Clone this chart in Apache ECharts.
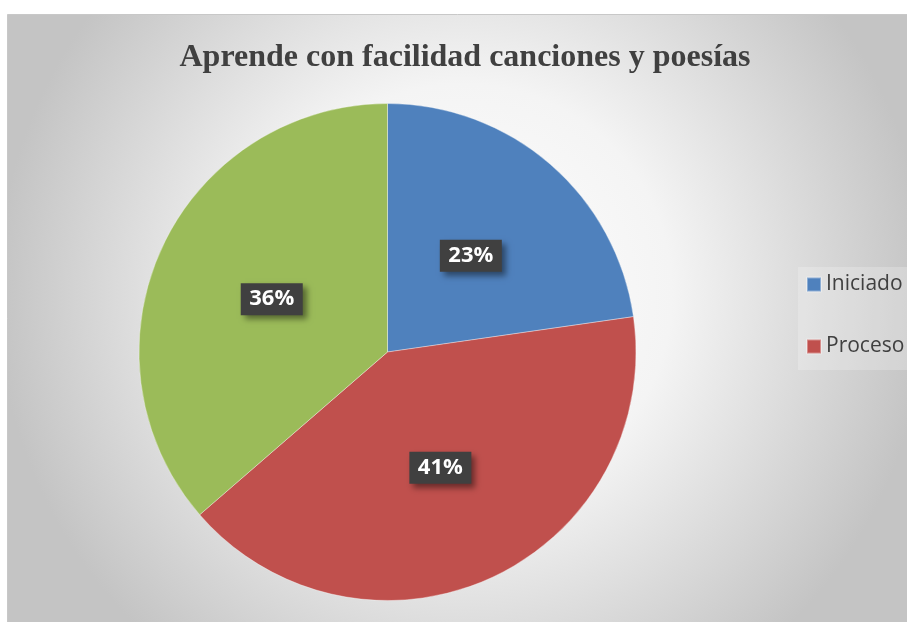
<!DOCTYPE html>
<html>
<head>
<meta charset="utf-8">
<script src="https://cdn.jsdelivr.net/npm/echarts@6/dist/echarts.min.js"></script>
<style>
html,body{margin:0;padding:0;background:#fff;}
#main{width:907px;height:622px;}
</style>
</head>
<body>
<div id="main"></div>
<script>
const titleText = 'Aprende con facilidad canciones y poesías';
const categories = ['Iniciado', 'Proceso', 'Logrado'];
const values = [5, 9, 8];
const colors = ['#4F81BD', '#C0504D', '#9BBB59'];
const legendItems = ['Iniciado', 'Proceso'];

const chart = echarts.init(document.getElementById('main'), null, {renderer: 'canvas'});
const total = values.reduce((a, b) => a + b, 0);

const option = {
  animation: false,
  backgroundColor: '#ffffff',
  graphic: [
    {
      type: 'rect', z: -10, silent: true,
      shape: {x: 7.5, y: 14.5, width: 910, height: 620},
      style: {
        fill: new echarts.graphic.RadialGradient(0.5, 0.45, 0.75, [
          {offset: 0, color: '#ffffff'},
          {offset: 0.45, color: '#f4f4f4'},
          {offset: 1, color: '#c4c4c4'}
        ]),
        stroke: '#c8c8c8', lineWidth: 1
      }
    },
    {
      type: 'rect', z: -9, silent: true,
      shape: {x: 798, y: 267, width: 112, height: 103},
      style: {fill: 'rgba(255,255,255,0.22)'}
    }
  ],
  title: {
    text: titleText,
    left: 460, top: 37, textAlign: 'center',
    textStyle: {
      fontFamily: '"Liberation Serif", "Times New Roman", serif',
      fontWeight: 'bold', fontSize: 32, color: '#404040'
    }
  },
  legend: {
    orient: 'vertical',
    left: 806, top: 274,
    padding: 0,
    data: legendItems,
    itemWidth: 14, itemHeight: 14, itemGap: 41,
    icon: 'rect',
    textStyle: {
      fontFamily: '"Open Sans", "Noto Sans", sans-serif',
      fontSize: 21, color: '#404040'
    }
  },
  series: [{
    type: 'pie',
    center: [387.5, 352],
    radius: [0, 248.5],
    startAngle: 90,
    clockwise: true,
    avoidLabelOverlap: false,
    itemStyle: {borderColor: 'rgba(255,255,255,0.35)', borderWidth: 1},
    label: {
      show: true,
      position: 'inside',
      formatter: p => Math.round(p.value / total * 100) + '%',
      fontFamily: '"Open Sans", "Noto Sans", sans-serif',
      fontWeight: 'bold', fontSize: 22, color: '#ffffff',
      backgroundColor: '#404040',
      padding: [4, 8, 3, 8],
      width: 46, height: 25, align: 'center', lineHeight: 25,
      shadowColor: 'rgba(0,0,0,0.45)', shadowBlur: 6, shadowOffsetX: 4, shadowOffsetY: 4
    },
    labelLine: {show: false},
    emphasis: {disabled: true},
    data: categories.map((c, i) => ({name: c, value: values[i], itemStyle: {color: colors[i]}}))
  }]
};
chart.setOption(option);
</script>
</body>
</html>
